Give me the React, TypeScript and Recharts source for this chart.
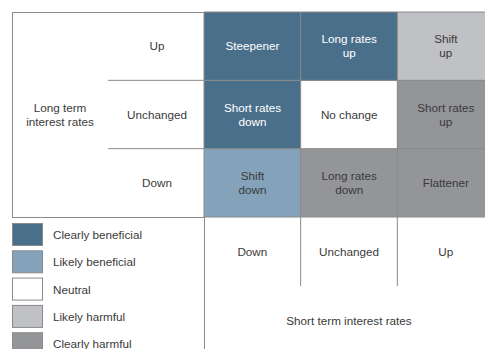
import React from "react";
import { BarChart, Bar, XAxis, YAxis, Cell, LabelList, Customized } from "recharts";

const shortTermRates = ["Down", "Unchanged", "Up"];
const longTermRates = ["Up", "Unchanged", "Down"];
const scenarioNames = [
  ["Steepener", "Long rates\nup", "Shift\nup"],
  ["Short rates\ndown", "No change", "Short rates\nup"],
  ["Shift\ndown", "Long rates\ndown", "Flattener"],
];
// index into impactLevels, rows follow longTermRates, columns follow shortTermRates
const scenarioImpact = [
  [0, 0, 3],
  [0, 2, 4],
  [1, 4, 4],
];
const impactLevels = [
  "Clearly beneficial",
  "Likely beneficial",
  "Neutral",
  "Likely harmful",
  "Clearly harmful",
];

const impactColors = ["#4a6f8a", "#84a3bb", "#ffffff", "#c0c1c4", "#949599"];
const LINE = "#8a8a8a";
const TEXT = "#3a3a3a";
const FONT = "'Liberation Sans', Arial, sans-serif";
const FS = 11.7;

const W = 495;
const H = 349;
const LEFT = 204;
const TOP = 12;
const RIGHT = 1;
const BOTTOM = 132;
const PLOT_W = W - LEFT - RIGHT;
const PLOT_H = H - TOP - BOTTOM;

// one stacked column per short term outcome, one segment per long term outcome
const data = shortTermRates.map((s) => {
  const row: Record<string, string | number> = { short: s };
  longTermRates.forEach((l) => (row[l] = 1));
  return row;
});

function CellLabel(props: any) {
  const { row, index } = props;
  const vb = props.viewBox ?? props;
  const cx = Number(vb.x) + Number(vb.width) / 2;
  const cy = Number(vb.y) + Number(vb.height) / 2;
  const lines = scenarioNames[row][index].split("\n");
  const fill = scenarioImpact[row][index] === 0 ? "#ffffff" : TEXT;
  return (
    <g>
      {lines.map((t, i) => (
        <text
          key={i}
          x={cx}
          y={cy + (i - (lines.length - 1) / 2) * 14}
          dy="0.35em"
          textAnchor="middle"
          fontSize={FS}
          fill={fill}
          fontFamily={FONT}
        >
          {t}
        </text>
      ))}
    </g>
  );
}

function LongTick(props: any) {
  const label = longTermRates[2 - Math.floor(props.payload.value)];
  return (
    <text x={LEFT - 47} y={props.y} dy="0.35em" textAnchor="middle" fontSize={FS} fill={TEXT} fontFamily={FONT}>
      {label}
    </text>
  );
}

function ShortTick(props: any) {
  return (
    <text x={props.x} y={TOP + PLOT_H + 35} dy="0.35em" textAnchor="middle" fontSize={FS} fill={TEXT} fontFamily={FONT}>
      {props.payload.value}
    </text>
  );
}

function Frame() {
  const rowH = PLOT_H / 3;
  const colW = PLOT_W / 3;
  const bottom = TOP + PLOT_H;
  return (
    <g>
      <rect x={12.5} y={TOP + 0.5} width={LEFT - 12} height={PLOT_H} fill="none" stroke={LINE} />
      {[1, 2].map((i) => (
        <line key={"h" + i} x1={108} x2={LEFT} y1={TOP + rowH * i} y2={TOP + rowH * i} stroke={LINE} />
      ))}
      <line x1={LEFT + 0.5} x2={LEFT + 0.5} y1={TOP} y2={H} stroke={LINE} />
      {[1, 2].map((i) => (
        <line key={"v" + i} x1={LEFT + colW * i} x2={LEFT + colW * i} y1={bottom} y2={286} stroke={LINE} />
      ))}
      <text x={60} y={108} dy="0.35em" textAnchor="middle" fontSize={FS} fill={TEXT} fontFamily={FONT}>
        Long term
      </text>
      <text x={60} y={122} dy="0.35em" textAnchor="middle" fontSize={FS} fill={TEXT} fontFamily={FONT}>
        interest rates
      </text>
      <text x={LEFT + PLOT_W / 2} y={321} dy="0.35em" textAnchor="middle" fontSize={FS} fill={TEXT} fontFamily={FONT}>
        Short term interest rates
      </text>
      {impactLevels.map((lvl, i) => (
        <g key={lvl}>
          <rect x={12.5} y={223.5 + i * 27.3} width={30} height={22} fill={impactColors[i]} stroke={LINE} />
          <text x={53} y={235 + i * 27.3} dy="0.35em" fontSize={FS} fill={TEXT} fontFamily={FONT}>
            {lvl}
          </text>
        </g>
      ))}
    </g>
  );
}

export default function App() {
  return (
    <div style={{ position: "absolute", left: 0, top: 0, width: 485, height: 349, overflow: "hidden", background: "#fff" }}>
      <BarChart
        width={W}
        height={H}
        data={data}
        margin={{ top: TOP, right: RIGHT, bottom: 0, left: 0 }}
        barCategoryGap={0}
        barGap={0}
      >
        <XAxis dataKey="short" height={BOTTOM} axisLine={false} tickLine={false} interval={0} tick={<ShortTick />} />
        <YAxis
          type="number"
          domain={[0, 3]}
          ticks={[0.5, 1.5, 2.5]}
          width={LEFT}
          axisLine={false}
          tickLine={false}
          tick={<LongTick />}
        />
        {[...longTermRates].reverse().map((long) => {
          const r = longTermRates.indexOf(long);
          return (
            <Bar key={long} dataKey={long} stackId="m" isAnimationActive={false}>
              {shortTermRates.map((_, c) => (
                <Cell key={c} fill={impactColors[scenarioImpact[r][c]]} stroke={LINE} strokeWidth={1} />
              ))}
              <LabelList content={(p: any) => <CellLabel {...p} row={r} />} />
            </Bar>
          );
        })}
        <Customized component={Frame} />
      </BarChart>
    </div>
  );
}
